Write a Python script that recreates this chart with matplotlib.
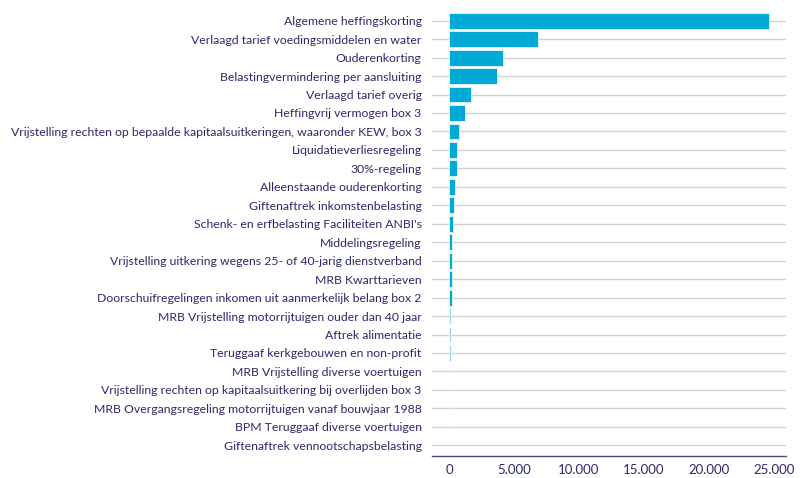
import matplotlib
matplotlib.use("Agg")
import matplotlib.pyplot as plt

categories = [
    "Algemene heffingskorting",
    "Verlaagd tarief voedingsmiddelen en water",
    "Ouderenkorting",
    "Belastingvermindering per aansluiting",
    "Verlaagd tarief overig",
    "Heffingvrij vermogen box 3",
    "Vrijstelling rechten op bepaalde kapitaalsuitkeringen, waaronder KEW, box 3",
    "Liquidatieverliesregeling",
    "30%-regeling",
    "Alleenstaande ouderenkorting",
    "Giftenaftrek inkomstenbelasting",
    "Schenk- en erfbelasting Faciliteiten ANBI's",
    "Middelingsregeling",
    "Vrijstelling uitkering wegens 25- of 40-jarig dienstverband",
    "MRB Kwarttarieven",
    "Doorschuifregelingen inkomen uit aanmerkelijk belang box 2",
    "MRB Vrijstelling motorrijtuigen ouder dan 40 jaar",
    "Aftrek alimentatie",
    "Teruggaaf kerkgebouwen en non-profit",
    "MRB Vrijstelling diverse voertuigen",
    "Vrijstelling rechten op kapitaalsuitkering bij overlijden box 3",
    "MRB Overgangsregeling motorrijtuigen vanaf bouwjaar 1988",
    "BPM Teruggaaf diverse voertuigen",
    "Giftenaftrek vennootschapsbelasting",
]
values = [24600, 6850, 4150, 3700, 1700, 1230, 790, 590, 590, 440, 410,
          280, 250, 230, 230, 210, 150, 150, 150, 0, 0, 0, 0, 0]
light = [False] * 16 + [True] * 3 + [False] * 5
xticks = [0, 5000, 10000, 15000, 20000, 25000]
xticklabels = ["0", "5.000", "10.000", "15.000", "20.000", "25.000"]

navy = "#2a2b6c"
blue = "#00a9d6"
lightblue = "#9ad8ee"

plt.rcParams['font.family'] = ['Lato', 'DejaVu Sans']

fig = plt.figure(figsize=(8.10, 4.78), dpi=100)
ax = fig.add_axes([432/810, 1-456/478, (786-432)/810, (456-9.6)/478])

# fit the longest label to the reference width (~411 px)
renderer = fig.canvas.get_renderer()
probe = fig.text(0, 0, categories[6], fontsize=10)
w = probe.get_window_extent(renderer).width
probe.remove()
fs = 10 * 411.0 / w

ypos = list(range(len(categories)))
colors = [lightblue if l else blue for l in light]
for y in ypos:
    ax.axhline(y, color="#d2d2d2", lw=1.0, zorder=1)
ax.barh(ypos, values, height=0.86, color=colors, edgecolor="white",
        linewidth=0.5, zorder=2)

ax.set_xlim(-1310, 25920)
ax.set_ylim(len(categories) - 0.42, -0.6)
ax.set_yticks(ypos)
ax.set_yticklabels(categories, fontsize=fs, color=navy)
ax.set_xticks(xticks)
ax.set_xticklabels(xticklabels, fontsize=9.5, color=navy)
ax.tick_params(axis="y", length=0, pad=7.5)
ax.tick_params(axis="x", length=0, pad=6)
for s in ["top", "right", "left"]:
    ax.spines[s].set_visible(False)
ax.spines["bottom"].set_color("#4a4c8c")
ax.spines["bottom"].set_linewidth(1.0)
ax.grid(False)

fig.savefig("out.png", dpi=100)
